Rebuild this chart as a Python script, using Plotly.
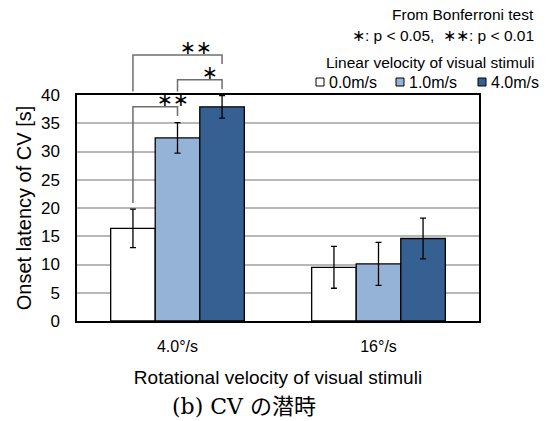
import plotly.graph_objects as go

# Rotational velocity categories and linear-velocity series
categories = ["4.0°/s", "16°/s"]
series_names = ["0.0m/s", "1.0m/s", "4.0m/s"]
means = [
    [16.4, 9.5],   # 0.0 m/s
    [32.4, 10.1],  # 1.0 m/s
    [37.9, 14.6],  # 4.0 m/s
]
errors = [
    [3.4, 3.7],
    [2.7, 3.8],
    [2.0, 3.6],
]
colors = ["#FFFFFF", "#95B3D7", "#376092"]
y_ticks = [0, 5, 10, 15, 20, 25, 30, 35, 40]

# Significance brackets: (group, series a, series b, label, bracket level,
#                         bottom of left leg, bottom of right leg)
brackets = [
    (0, 0, 2, "∗∗", 47.1, 40.6, 45.5),
    (0, 1, 2, "∗", 42.7, 40.6, 41.0),
    (0, 0, 1, "∗∗", 37.9, 20.9, 36.3),
]

FONT = "Liberation Sans, Arial, sans-serif"
STAR_FONT = "Noto Sans CJK JP, DejaVu Sans"
Y_RANGE = [0, 40]
X_RANGE = [-0.5, len(categories) - 0.5]
BARGAP = 0.335
n = len(series_names)
bar_w = (1 - BARGAP) / n

fig = go.Figure()
for i, name in enumerate(series_names):
    fig.add_trace(go.Bar(
        x=categories, y=means[i], name=name,
        marker=dict(color=colors[i], line=dict(color="#000000", width=1.3)),
        error_y=dict(type="data", array=errors[i], visible=True,
                     color="#000000", thickness=1.3, width=3),
        showlegend=False,
    ))


def px(xv):
    return (xv - X_RANGE[0]) / (X_RANGE[1] - X_RANGE[0])


def py(yv):
    return (yv - Y_RANGE[0]) / (Y_RANGE[1] - Y_RANGE[0])


def bar_center(group, s):
    return group + (s - (n - 1) / 2) * bar_w


shapes = []
annotations = []
for g, a, b, label, level, la, lb in brackets:
    xa, xb = px(bar_center(g, a)), px(bar_center(g, b))
    shapes.append(dict(
        type="path", xref="paper", yref="paper",
        path=f"M {xa} {py(la)} L {xa} {py(level)} L {xb} {py(level)} L {xb} {py(lb)}",
        line=dict(color="#6e6e6e", width=1.5),
    ))
    annotations.append(dict(
        x=(xa + xb) / 2, y=py(level), xref="paper", yref="paper",
        text=label, showarrow=False, yanchor="bottom", yshift=-6,
        font=dict(family=STAR_FONT, size=19, color="#000000"),
    ))

# Legend block drawn in pixel-like paper coordinates above the plot
legend_x = [316, 396, 478]
W, H = 547, 421
L, R, T, B = 77, 68, 95, 100
pw, ph = W - L - R, H - T - B


def fx(pxl):
    return (pxl - L) / pw


def fy(pyl):
    return 1 - (pyl - T) / ph


for i, name in enumerate(series_names):
    x0 = legend_x[i]
    shapes.append(dict(
        type="rect", xref="paper", yref="paper",
        x0=fx(x0), x1=fx(x0 + 8), y0=fy(86), y1=fy(78),
        fillcolor=colors[i], line=dict(color="#000000", width=1),
    ))
    annotations.append(dict(
        x=fx(x0 + 11), y=fy(82), xref="paper", yref="paper",
        text=name, showarrow=False, xanchor="left", yanchor="middle",
        font=dict(family=FONT, size=16, color="#000000"),
    ))

for text, ypos in [("From Bonferroni test", 15),
                   ("∗: p < 0.05,  ∗∗: p < 0.01", 35),
                   ("Linear velocity of visual stimuli", 62)]:
    annotations.append(dict(
        x=fx(536), y=fy(ypos), xref="paper", yref="paper",
        text=text, showarrow=False, xanchor="right", yanchor="middle",
        font=dict(family=FONT, size=15.5, color="#000000"),
    ))

annotations.append(dict(
    x=fx(244), y=fy(406), xref="paper", yref="paper",
    text="(b) CV の潜時", showarrow=False, xanchor="center", yanchor="middle",
    font=dict(family="DejaVu Serif, Noto Sans CJK JP, serif", size=22,
              color="#000000"),
))

fig.update_layout(
    width=W, height=H,
    margin=dict(l=L, r=R, t=T, b=B, pad=0),
    paper_bgcolor="#FFFFFF", plot_bgcolor="#FFFFFF",
    barmode="group", bargap=BARGAP, bargroupgap=0,
    font=dict(family=FONT, size=16, color="#000000"),
    shapes=shapes, annotations=annotations,
    xaxis=dict(
        range=X_RANGE, showgrid=False, showline=True, mirror=True,
        linecolor="#000000", linewidth=1.5, ticks="",
        tickfont=dict(size=16), ticklabelstandoff=10,
        title=dict(text="Rotational velocity of visual stimuli",
                   font=dict(size=19), standoff=17),
    ),
    yaxis=dict(
        range=Y_RANGE, tickvals=y_ticks, showgrid=True,
        gridcolor="#b8b8b8", gridwidth=1.5, zeroline=False,
        showline=True, mirror=True, linecolor="#000000", linewidth=1.5,
        ticks="", tickfont=dict(size=17), ticklabelstandoff=12,
        title=dict(text="Onset latency of CV [s]", font=dict(size=20),
                   standoff=4),
    ),
)

fig.write_html("out.html")
